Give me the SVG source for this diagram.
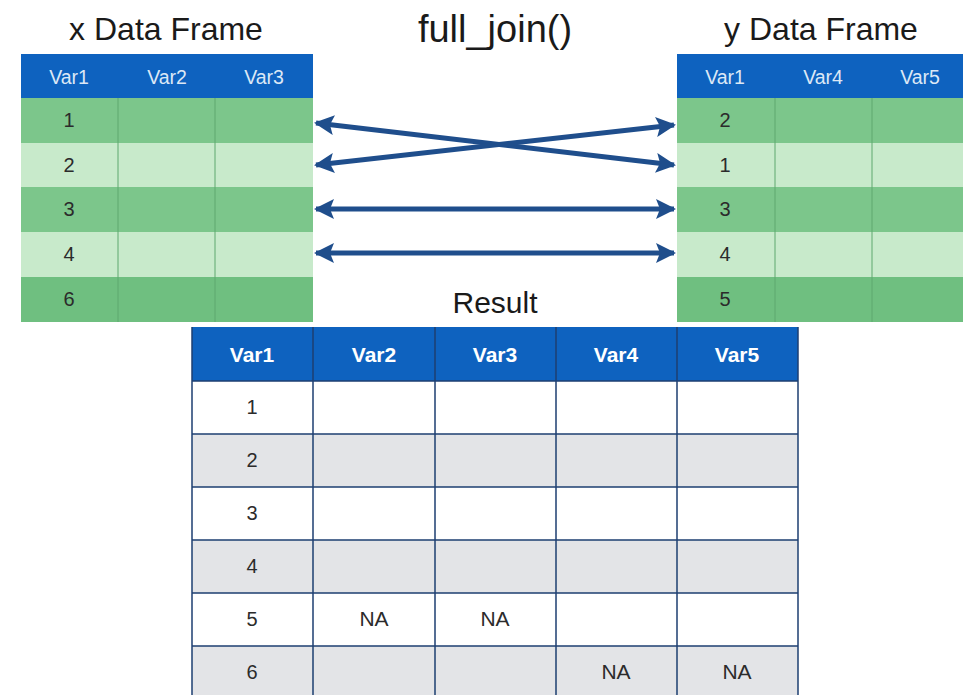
<svg xmlns="http://www.w3.org/2000/svg" width="963" height="695" viewBox="0 0 963 695">
<defs>
<style>
.title{font-family:"Liberation Sans",Arial,sans-serif;font-size:32px;fill:#1a1a1a;text-anchor:middle}
.hx{font-family:"Liberation Sans",Arial,sans-serif;font-size:19.5px;fill:#dce8f6;text-anchor:middle}
.hr{font-family:"Liberation Sans",Arial,sans-serif;font-size:21px;font-weight:bold;fill:#ffffff;text-anchor:middle}
.num{font-family:"Liberation Sans",Arial,sans-serif;font-size:20px;fill:#2b2b2b;text-anchor:middle}
.na{font-size:21px}
.hdr{fill:#0e62bf}
.g1{fill:#7cc68b}
.g2{fill:#c8eacb}
.g3{fill:#6fbf80}
.gline{stroke:#5fa86e;stroke-width:1;fill:none}
.w{fill:#ffffff}
.gr{fill:#e3e4e7}
.rline{stroke:#1e3f72;stroke-width:1.5;fill:none}
.arr{stroke:#1f4e8c;stroke-width:5;fill:none;marker-start:url(#ah);marker-end:url(#ah)}
</style>
<marker id="ah" viewBox="0 0 10 10" refX="9" refY="5" markerWidth="4" markerHeight="4" orient="auto-start-reverse" markerUnits="strokeWidth">
<path d="M0,0 L10,5 L0,10 L2,5 Z" fill="#1f4e8c"/>
</marker>
</defs>
<rect width="963" height="695" fill="#ffffff"/>

<text class="title" x="166" y="40">x Data Frame</text>
<text class="title" x="495" y="42" style="font-size:38px">full_join()</text>
<text class="title" x="821" y="40">y Data Frame</text>
<text class="title" x="495" y="313" style="font-size:30px">Result</text>

<g id="x-table">
<rect class="hdr" x="21" y="54" width="292" height="44"/>
<text class="hx" x="69" y="84">Var1</text>
<text class="hx" x="167" y="84">Var2</text>
<text class="hx" x="264" y="84">Var3</text>
<rect class="g1" x="21" y="98" width="292" height="45"/>
<rect class="g2" x="21" y="143" width="292" height="44"/>
<rect class="g1" x="21" y="187" width="292" height="45"/>
<rect class="g2" x="21" y="232" width="292" height="45"/>
<rect class="g3" x="21" y="277" width="292" height="45"/>
<path class="gline" d="M118,98 V322 M215,98 V322"/>
<text class="num" x="69" y="127">1</text>
<text class="num" x="69" y="172">2</text>
<text class="num" x="69" y="216">3</text>
<text class="num" x="69" y="261">4</text>
<text class="num" x="69" y="306">6</text>
</g>

<g id="y-table">
<rect class="hdr" x="677" y="54" width="290" height="44"/>
<text class="hx" x="725" y="84">Var1</text>
<text class="hx" x="823" y="84">Var4</text>
<text class="hx" x="920" y="84">Var5</text>
<rect class="g1" x="677" y="98" width="290" height="45"/>
<rect class="g2" x="677" y="143" width="290" height="44"/>
<rect class="g1" x="677" y="187" width="290" height="45"/>
<rect class="g2" x="677" y="232" width="290" height="45"/>
<rect class="g3" x="677" y="277" width="290" height="45"/>
<path class="gline" d="M775,98 V322 M872,98 V322"/>
<text class="num" x="725" y="127">2</text>
<text class="num" x="725" y="172">1</text>
<text class="num" x="725" y="216">3</text>
<text class="num" x="725" y="261">4</text>
<text class="num" x="725" y="306">5</text>
</g>

<g id="connectors">
<line class="arr" x1="316" y1="123" x2="674" y2="165"/>
<line class="arr" x1="316" y1="165" x2="674" y2="125"/>
<line class="arr" x1="316" y1="209" x2="674" y2="209"/>
<line class="arr" x1="316" y1="253" x2="674" y2="253"/>
</g>

<g id="result-table">
<rect class="hdr" x="192" y="327" width="606" height="54"/>
<text class="hr" x="252" y="362">Var1</text>
<text class="hr" x="374" y="362">Var2</text>
<text class="hr" x="495" y="362">Var3</text>
<text class="hr" x="616" y="362">Var4</text>
<text class="hr" x="737" y="362">Var5</text>
<rect class="w" x="192" y="381" width="606" height="53"/>
<rect class="gr" x="192" y="434" width="606" height="53"/>
<rect class="w" x="192" y="487" width="606" height="53"/>
<rect class="gr" x="192" y="540" width="606" height="53"/>
<rect class="w" x="192" y="593" width="606" height="53"/>
<rect class="gr" x="192" y="646" width="606" height="55"/>
<path class="rline" d="M192,327 V701 M313,327 V701 M435,327 V701 M556,327 V701 M677,327 V701 M798,327 V701 M192,381 H798 M192,434 H798 M192,487 H798 M192,540 H798 M192,593 H798 M192,646 H798"/>
<text class="num" x="252" y="414">1</text>
<text class="num" x="252" y="467">2</text>
<text class="num" x="252" y="520">3</text>
<text class="num" x="252" y="573">4</text>
<text class="num" x="252" y="626">5</text>
<text class="num" x="252" y="679">6</text>
<text class="num na" x="374" y="626">NA</text>
<text class="num na" x="495" y="626">NA</text>
<text class="num na" x="616" y="679">NA</text>
<text class="num na" x="737" y="679">NA</text>
</g>
</svg>
